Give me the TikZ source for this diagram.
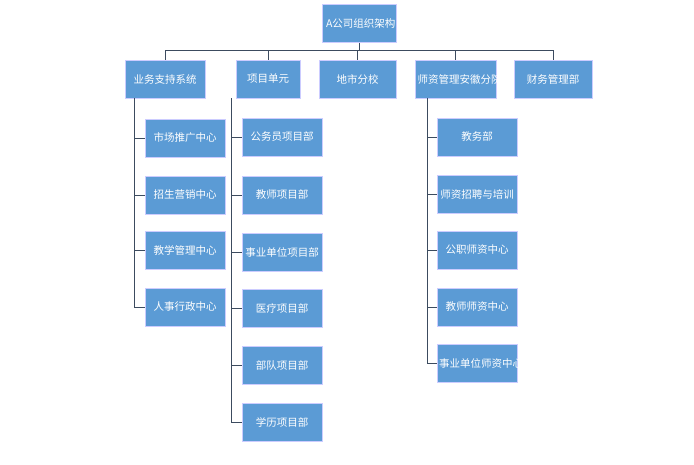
\documentclass[tikz,border=0pt]{standalone}
\usepackage{fontspec}
\newfontfamily\cjk{Noto Sans CJK SC}
\begin{document}
\begin{tikzpicture}[x=1pt,y=-1pt,
  box/.style={draw=white!80!blue, line width=0.6pt, fill={rgb,255:red,91;green,155;blue,213}, text=white, font=\cjk\fontsize{10.5}{13}\selectfont, align=center, inner sep=1pt, minimum height=38pt},
  ln/.style={draw={rgb,255:red,60;green,75;blue,95}, line width=1pt}]
\useasboundingbox (0,0) rectangle (694,464);
\node[box, minimum width=74pt, text width=66pt] (top) at (359,23.5) {A公司组织架构};
\node[box, minimum width=80pt, text width=76pt] (b1) at (165,79) {业务支持系统};
\node[box, minimum width=64pt, text width=60pt] (b2) at (268,79) {项目单元};
\node[box, minimum width=77pt, text width=72pt] (b3) at (357.5,79) {地市分校};
\node[box, minimum width=81pt, text width=76pt] (b4) at (455.5,79) {师资管理安徽分院};
\node[box, minimum width=78pt, text width=74pt] (b5) at (553,79) {财务管理部};
\coordinate (h) at (0,50);
\draw[ln] (top.south) -- (top.south|-h);
\draw[ln] (b1.north|-h) -- (b5.north|-h);
\foreach \b in {b1,b2,b3,b4,b5} \draw[ln] (\b.north|-h) -- (\b.north);
% left column
\foreach \n/\t/\y in {l1/市场推广中心/138, l2/招生营销中心/195, l3/教学管理中心/250, l4/人事行政中心/307}
  \node[box, minimum width=80pt, text width=76pt] (\n) at (185,\y) {\t};
\coordinate (lx) at (134,0);
\draw[ln] (lx|-b1.south) -- (lx|-l4.west);
\foreach \n in {l1,l2,l3,l4} \draw[ln] (lx|-\n.west) -- (\n.west);
% project column
\foreach \n/\t/\y in {p1/公务员项目部/137, p2/教师项目部/195, p3/事业单位项目部/252, p4/医疗项目部/308, p5/部队项目部/365, p6/学历项目部/422}
  \node[box, minimum width=80pt, text width=76pt] (\n) at (282,\y) {\t};
\coordinate (px) at (231,0);
\draw[ln] (px|-b2.south) -- (px|-p6.west);
\foreach \n in {p1,p2,p3,p4,p5,p6} \draw[ln] (px|-\n.west) -- (\n.west);
% teacher column
\foreach \n/\t/\y in {t1/教务部/137, t2/师资招聘与培训/194, t3/公职师资中心/250, t4/教师师资中心/307, t5/事业单位师资中心/363}
  \node[box, minimum width=80pt, text width=76pt] (\n) at (477,\y) {\t};
\coordinate (tx) at (427,0);
\draw[ln] (tx|-b4.south) -- (tx|-t5.west);
\foreach \n in {t1,t2,t3,t4,t5} \draw[ln] (tx|-\n.west) -- (\n.west);
\end{tikzpicture}
\end{document}
